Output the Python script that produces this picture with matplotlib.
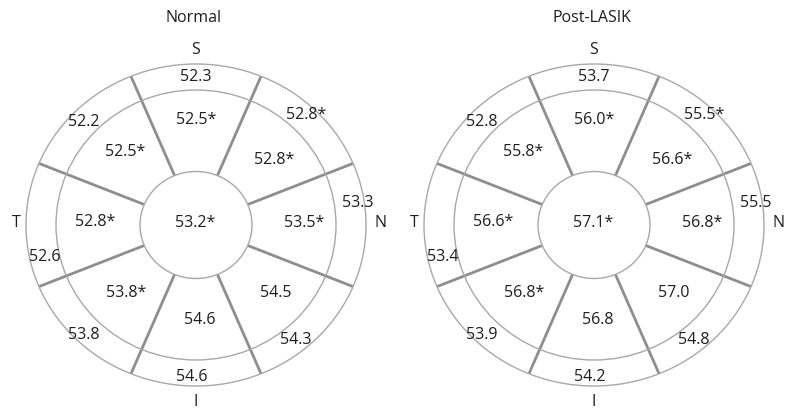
import numpy as np
import matplotlib.pyplot as plt
from matplotlib.patches import Ellipse

# sector order: top (S), upper-right, right (N), lower-right, bottom (I),
# lower-left, left (T), upper-left
titles = ['Normal', 'Post-LASIK']
center_vals = ['53.2*', '57.1*']
inner_vals = [
    ['52.5*', '52.8*', '53.5*', '54.5', '54.6', '53.8*', '52.8*', '52.5*'],
    ['56.0*', '56.6*', '56.8*', '57.0', '56.8', '56.8*', '56.6*', '55.8*'],
]
outer_vals = [
    ['52.3', '52.8*', '53.3', '54.3', '54.6', '53.8', '52.6', '52.2'],
    ['53.7', '55.5*', '55.5', '54.8', '54.2', '53.9', '53.4', '52.8'],
]
compass = ['S', 'N', 'I', 'T']

# layout (pixels)
centers = [(196, 226), (594, 226)]
radii = [(56, 53.5), (140, 135), (170, 161)]
inner_off = [(0, -106), (78, -66), (108, -3), (80, 67), (4, 94),
             (-70, 67), (-101, -4), (-71, -74)]
outer_off = [(0, -149), (110, -111), (162, -23), (100, 114), (-4, 151),
             (-112, 109), (-151, 31), (-112, -104)]
compass_off = [(0, -176), (184, -3), (0, 176), (-180, -3)]

plt.rcParams['font.family'] = ['Open Sans', 'DejaVu Sans']
fig = plt.figure(figsize=(7.85, 4.14), dpi=100)
ax = fig.add_axes([0, 0, 1, 1])
ax.set_xlim(0, 785)
ax.set_ylim(414, 0)
ax.axis('off')

ring_col = '#a8a8a8'
div_col = '#8e8e8e'
txt_col = '#1e1e1e'
fs = 11.5

for i, (cx, cy) in enumerate(centers):
    for rx, ry in radii:
        ax.add_patch(Ellipse((cx, cy), 2 * rx, 2 * ry, fill=False,
                             ec=ring_col, lw=1.0, zorder=2))
    # sector dividers
    for k in range(8):
        th = np.deg2rad(22.5 + 45 * k)
        r0x, r0y = radii[0]
        r1x, r1y = radii[2]
        ax.plot([cx + r0x * np.sin(th), cx + r1x * np.sin(th)],
                [cy - r0y * np.cos(th), cy - r1y * np.cos(th)],
                color=div_col, lw=2.0, solid_capstyle='butt', zorder=1)

    ax.text(cx - 2, cy - 208, titles[i], ha='center', va='center',
            fontsize=fs, color=txt_col)
    ax.text(cx - 1, cy - 3, center_vals[i], ha='center', va='center',
            fontsize=fs, color=txt_col)
    for k in range(8):
        dx, dy = inner_off[k]
        ax.text(cx + dx, cy + dy, inner_vals[i][k], ha='center', va='center',
                fontsize=fs, color=txt_col)
        dx, dy = outer_off[k]
        ax.text(cx + dx, cy + dy, outer_vals[i][k], ha='center', va='center',
                fontsize=fs, color=txt_col)
    for lab, (dx, dy) in zip(compass, compass_off):
        ax.text(cx + dx, cy + dy, lab, ha='center', va='center',
                fontsize=fs, color=txt_col)

fig.savefig('out.png', dpi=100, facecolor='white')
